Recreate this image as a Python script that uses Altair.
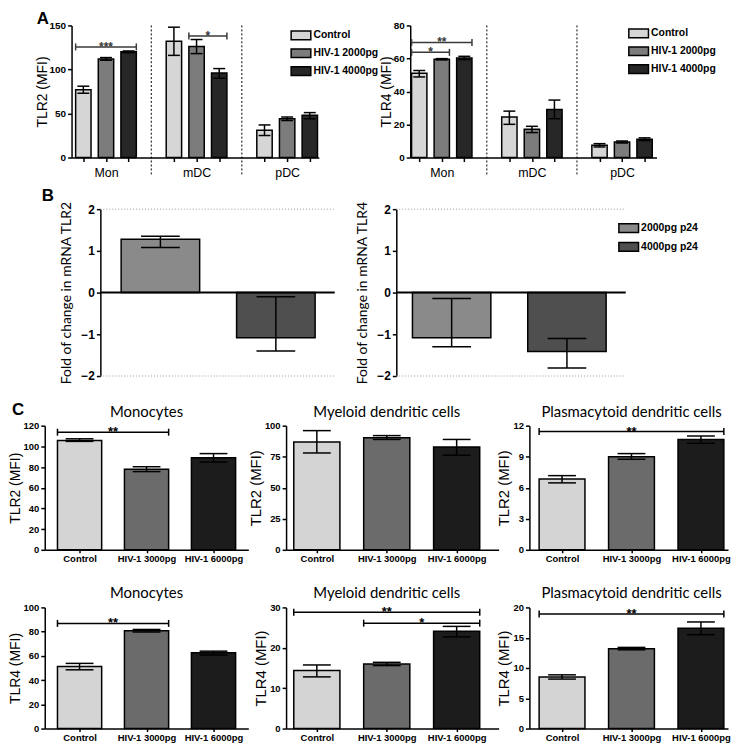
import json
import altair as alt
import pandas as pd

# ---------------- data ----------------
A_groups = ["Mon", "mDC", "pDC"]
A_series = ["Control", "HIV-1 2000pg", "HIV-1 4000pg"]
A_tlr2_mean = [[77, 112, 120], [132, 126, 96], [31, 44, 48]]
A_tlr2_lo = [[73, 110.5, 119], [116, 118, 90], [25, 42, 44]]
A_tlr2_hi = [[81, 113.5, 121], [148, 134, 101], [37, 46, 51]]
A_tlr4_mean = [[51, 59.5, 60.3], [24.5, 17.1, 29.1], [7.4, 9.4, 11.0]]
A_tlr4_lo = [[48.8, 59.1, 59.3], [20.1, 15.1, 23.5], [6.4, 8.8, 10.3]]
A_tlr4_hi = [[52.7, 59.9, 61.3], [28.1, 18.9, 34.8], [8.4, 10.0, 11.9]]
A_tlr2_sig = [(0, 0, 2, 125.6, "***"), (1, 1, 2, 138, "*")]
A_tlr4_sig = [(0, 0, 2, 69.7, "**"), (0, 0, 1, 63.7, "*")]

B_series = ["2000pg p24", "4000pg p24"]
B_tlr2_mean = [1.28, -1.08]
B_tlr2_lo = [1.08, -1.40]
B_tlr2_hi = [1.35, -0.10]
B_tlr4_mean = [-1.08, -1.41]
B_tlr4_lo = [-1.30, -1.81]
B_tlr4_hi = [-0.14, -1.10]

C_cats = ["Control", "HIV-1 3000pg", "HIV-1 6000pg"]
C_titles = ["Monocytes", "Myeloid dendritic cells", "Plasmacytoid dendritic cells"]
C_tlr2_mean = [[105.7, 77.8, 88.9], [86.8, 90.2, 82.8], [6.85, 9.0, 10.67]]
C_tlr2_lo = [[104.8, 75.6, 84.8], [78.0, 88.9, 76.2], [6.47, 8.75, 10.3]]
C_tlr2_hi = [[107.3, 80.3, 93.0], [96.0, 92.0, 88.9], [7.17, 9.3, 11.0]]
C_tlr4_mean = [[51.2, 80.7, 62.5], [14.4, 16.0, 24.1], [8.5, 13.17, 16.56]]
C_tlr4_lo = [[48.5, 79.7, 60.7], [12.8, 15.6, 22.7], [8.17, 13.0, 15.5]]
C_tlr4_hi = [[53.8, 81.8, 63.9], [15.75, 16.4, 25.3], [8.87, 13.4, 17.6]]
C_tlr2_ymax = [120, 100, 12]
C_tlr2_step = [20, 25, 3]
C_tlr4_ymax = [100, 30, 20]
C_tlr4_step = [20, 10, 5]
C_tlr2_sig = [[(0, 1, 113.7, "**")], [], [(0, 2, 11.43, "**")]]
C_tlr4_sig = [[(0, 1, 86.8, "**")], [(0, 2, 28.8, "**"), (1, 2, 26.1, "*")], [(0, 2, 18.9, "**")]]

# ---------------- layout / style ----------------
W, H = 722, 738
FONT = "Liberation Sans"
TFONT = "Lato"
RECT = "M-1.4,-0.62L1.4,-0.62L1.4,0.62L-1.4,0.62Z"
A_COLORS = ["#d6d6d6", "#7c7c7c", "#272727"]
B_COLORS = ["#8a8a8a", "#4f4f4f"]
C_COLORS = ["#d4d4d4", "#6b6b6b", "#1c1c1c"]

A_X = [(60, 309), (401, 649)]
A_XDOM = [(-0.52, 10.4), (-0.40, 10.53)]
A_Y = (147, 14)
B_X = [(89, 325), (387, 618)]
B_XDOM = [(-0.52, 1.51), (-0.48, 1.51)]
B_Y = (367, 199)
C_X = [(33, 238), (276, 490), (521, 721)]
C_XDOM = [(-0.52, 2.52), (-0.44, 2.6), (-0.47, 2.39)]
C_Y = [(542, 417), (722, 600)]
C_TITLE_Y = [403, 586]


def sc(dom, rng):
    return alt.Scale(domain=list(dom), range=list(rng), nice=False, zero=False)


def y_axis(L, vals, title, tfont, tsize, lsize, tpad):
    return alt.Axis(orient="left", offset=-L, values=vals, title=title, titleFont=tfont,
                    titleFontSize=tsize, titleFontWeight="normal", titleColor="black",
                    titlePadding=tpad, labelFont=FONT, labelFontSize=lsize,
                    labelFontWeight="bold", labelColor="black", labelPadding=2,
                    labelFlush=False, labelOverlap=False, tickSize=4, tickWidth=1.5,
                    tickColor="black", domainColor="black", domainWidth=1.5, grid=False)


def x_axis(zero, vals, expr, lsize, lweight, lpad, tsize):
    return alt.Axis(orient="bottom", offset=zero - H, values=vals, labelExpr=expr, title=None,
                    labelFont=FONT, labelFontSize=lsize, labelFontWeight=lweight,
                    labelColor="black", labelPadding=lpad, labelFlush=False,
                    labelOverlap=False, tickSize=tsize, tickWidth=1.5, tickColor="black",
                    domainColor="black", domainWidth=1.5, grid=False)


def legend(lx, ly, rowpad=2):
    return alt.Legend(orient="none", legendX=lx, legendY=ly, title=None, symbolType=RECT,
                      symbolSize=200, symbolStrokeColor="black", symbolStrokeWidth=1.5,
                      symbolOpacity=1, labelFont=FONT, labelFontSize=10.5,
                      labelFontWeight="bold", labelColor="black", labelOffset=4.5,
                      rowPadding=rowpad, padding=0)


def bar_layers(pos, mean, lo, hi, series, order, colors, hw, cap, xd, xr, yd, yr, xax, yax, leg):
    df = pd.DataFrame({"pos": pos, "val": mean, "lo": lo, "hi": hi, "series": series})
    df["x0"] = df["pos"] - hw
    df["x1"] = df["pos"] + hw
    df["base"] = 0.0
    bars = alt.Chart(df).mark_rect(stroke="black", strokeWidth=1.5, opacity=1).encode(
        x=alt.X("x0:Q", scale=sc(xd, xr), axis=xax), x2="x1:Q",
        y=alt.Y("val:Q", scale=sc(yd, yr), axis=yax), y2="base:Q",
        color=alt.Color("series:N", scale=alt.Scale(domain=order, range=colors), legend=leg),
    )
    err = alt.Chart(df).mark_rule(color="black", strokeWidth=1.5).encode(
        x=alt.X("pos:Q", scale=sc(xd, xr), axis=None),
        y=alt.Y("lo:Q", scale=sc(yd, yr), axis=None), y2="hi:Q",
    )
    capdf = pd.DataFrame({"pos": list(pos) * 2, "yv": list(lo) + list(hi)})
    caps = alt.Chart(capdf).mark_tick(orient="horizontal", size=cap, thickness=1.5,
                                      color="black", opacity=1).encode(
        x=alt.X("pos:Q", scale=sc(xd, xr), axis=None),
        y=alt.Y("yv:Q", scale=sc(yd, yr), axis=None),
    )
    return [bars, err, caps]


def sig_layers(xl, xr_, ys, labs, xd, xr, yd, yr, color, fsize):
    if not xl:
        return []
    sdf = pd.DataFrame({"xl": xl, "xr": xr_, "y": ys, "lab": labs})
    sdf["xm"] = (sdf["xl"] + sdf["xr"]) / 2
    edf = pd.DataFrame({"xe": list(xl) + list(xr_), "y": list(ys) * 2})
    line = alt.Chart(sdf).mark_rule(color=color, strokeWidth=1.5).encode(
        x=alt.X("xl:Q", scale=sc(xd, xr), axis=None), x2="xr:Q",
        y=alt.Y("y:Q", scale=sc(yd, yr), axis=None))
    ends = alt.Chart(edf).mark_tick(orient="vertical", size=7, thickness=1.5, color=color,
                                    opacity=1).encode(
        x=alt.X("xe:Q", scale=sc(xd, xr), axis=None), y=alt.Y("y:Q", scale=sc(yd, yr), axis=None))
    txt = alt.Chart(sdf).mark_text(baseline="alphabetic", dy=4, fontSize=fsize,
                                   fontWeight="bold", color=color, font=FONT).encode(
        x=alt.X("xm:Q", scale=sc(xd, xr), axis=None), y=alt.Y("y:Q", scale=sc(yd, yr), axis=None),
        text="lab:N")
    return [line, ends, txt]


layers = []

# ---------------- panel A ----------------
A_spec = [
    (A_tlr2_mean, A_tlr2_lo, A_tlr2_hi, A_tlr2_sig, "TLR2 (MFI)", 150, 50, (283, 16)),
    (A_tlr4_mean, A_tlr4_lo, A_tlr4_hi, A_tlr4_sig, "TLR4 (MFI)", 80, 20, (623, 14)),
]
A_HW = 0.34
for i, (mean, lo, hi, sig, ytitle, ymax, ystep, lxy) in enumerate(A_spec):
    pos, m, l, h, s = [], [], [], [], []
    for g in range(len(A_groups)):
        for k in range(len(A_series)):
            pos.append(4 * g + k)
            m.append(mean[g][k])
            l.append(lo[g][k])
            h.append(hi[g][k])
            s.append(A_series[k])
    xd, xr, yd, yr = A_XDOM[i], A_X[i], (0, ymax), A_Y
    expr = ("datum.value % 4 == 1 ? " + json.dumps(A_groups) +
            "[(datum.value - 1) / 4] : ''")
    xax = x_axis(A_Y[0], pos, expr, 12.5, "normal", 5, 4)
    yax = y_axis(A_X[i][0], list(range(0, ymax + 1, ystep)), ytitle, FONT, 14, 10, 0)
    ddf = pd.DataFrame({"xd": [4 * g - 1 for g in range(1, len(A_groups))]})
    ddf["top"] = ymax
    ddf["bot"] = -0.13 * ymax
    div = alt.Chart(ddf).mark_rule(color="black", strokeWidth=1, strokeDash=[2, 2]).encode(
        x=alt.X("xd:Q", scale=sc(xd, xr), axis=None),
        y=alt.Y("top:Q", scale=sc(yd, yr), axis=None), y2="bot:Q")
    layers.append(div)
    layers += bar_layers(pos, m, l, h, s, A_series, A_COLORS, A_HW, 12, xd, xr, yd, yr,
                         xax, yax, legend(*lxy))
    xl = [4 * g + k0 - A_HW for g, k0, k1, y, lab in sig]
    xrr = [4 * g + k1 + A_HW for g, k0, k1, y, lab in sig]
    layers += sig_layers(xl, xrr, [t[3] for t in sig], [t[4] for t in sig],
                         xd, xr, yd, yr, "#3a3a3a", 12)

# ---------------- panel B ----------------
B_spec = [
    (B_tlr2_mean, B_tlr2_lo, B_tlr2_hi, "Fold of change in mRNA TLR2", None),
    (B_tlr4_mean, B_tlr4_lo, B_tlr4_hi, "Fold of change in mRNA TLR4", legend(613, 210, 3)),
]
for i, (mean, lo, hi, ytitle, leg) in enumerate(B_spec):
    pos = list(range(len(B_series)))
    xd, xr, yd, yr = B_XDOM[i], B_X[i], (-2, 2), B_Y
    yax = y_axis(B_X[i][0], [-2, -1, 0, 1, 2], ytitle, TFONT, 14, 12, 7)
    gdf = pd.DataFrame({"a": [xd[0]] * 2, "b": [xd[1]] * 2, "yv": [2, -2]})
    zdf = pd.DataFrame({"a": [xd[0]], "b": [xd[1]], "yv": [0]})
    grid = alt.Chart(gdf).mark_rule(color="#9a9a9a", strokeWidth=1, strokeDash=[1, 2]).encode(
        x=alt.X("a:Q", scale=sc(xd, xr), axis=None), x2="b:Q",
        y=alt.Y("yv:Q", scale=sc(yd, yr), axis=None))
    zero = alt.Chart(zdf).mark_rule(color="black", strokeWidth=2).encode(
        x=alt.X("a:Q", scale=sc(xd, xr), axis=None), x2="b:Q",
        y=alt.Y("yv:Q", scale=sc(yd, yr), axis=None))
    layers.append(grid)
    layers += bar_layers(pos, mean, lo, hi, B_series, B_series, B_COLORS, 0.34, 39,
                         xd, xr, yd, yr, None, yax, leg)
    layers.append(zero)

# ---------------- panel C ----------------
C_rows = [
    ("TLR2 (MFI)", C_tlr2_mean, C_tlr2_lo, C_tlr2_hi, C_tlr2_ymax, C_tlr2_step, C_tlr2_sig),
    ("TLR4 (MFI)", C_tlr4_mean, C_tlr4_lo, C_tlr4_hi, C_tlr4_ymax, C_tlr4_step, C_tlr4_sig),
]
C_HW = 0.33
c_expr = json.dumps(C_cats) + "[datum.value]"
for r, (ytitle, means, los, his, ymaxs, steps, sigs) in enumerate(C_rows):
    for c in range(3):
        pos = list(range(len(C_cats)))
        xd, xr, yd, yr = C_XDOM[c], C_X[c], (0, ymaxs[c]), C_Y[r]
        xax = x_axis(C_Y[r][0], pos, c_expr, 9.5, "bold", 1, 3)
        yax = y_axis(C_X[c][0], list(range(0, ymaxs[c] + 1, steps[c])), ytitle, FONT,
                     14 if c == 0 else 15, 9.5, 1)
        layers += bar_layers(pos, means[c], los[c], his[c], C_cats, C_cats, C_COLORS, C_HW, 28,
                             xd, xr, yd, yr, xax, yax, None)
        sg = sigs[c]
        layers += sig_layers([t[0] - C_HW for t in sg], [t[1] + C_HW for t in sg],
                             [t[2] for t in sg], [t[3] for t in sg], xd, xr, yd, yr,
                             "black", 13)
        tdf = pd.DataFrame({"t": [C_titles[c]], "xc": [1.0]})
        ttl = alt.Chart(tdf).mark_text(font=TFONT, fontSize=15, color="black",
                                       baseline="middle").encode(
            x=alt.X("xc:Q", scale=sc(xd, xr), axis=None), y=alt.value(C_TITLE_Y[r]),
            text="t:N")
        layers.append(ttl)

# ---------------- section letters ----------------
for lab, lx, ly in [("A", 25, 0), ("B", 30, 178), ("C", 0, 393)]:
    layers.append(
        alt.Chart(pd.DataFrame({"t": [lab]})).mark_text(
            font=FONT, fontSize=17, fontWeight="bold", color="black", align="left",
            baseline="top").encode(x=alt.value(lx), y=alt.value(ly), text="t:N"))

chart = (
    alt.layer(*layers)
    .properties(width=W, height=H, padding=0, background="white")
    .resolve_scale(x="independent", y="independent", color="independent")
    .resolve_legend(color="independent")
    .configure_view(stroke=None)
)

chart.save("out.html", embed_options={"renderer": "svg", "actions": False})
